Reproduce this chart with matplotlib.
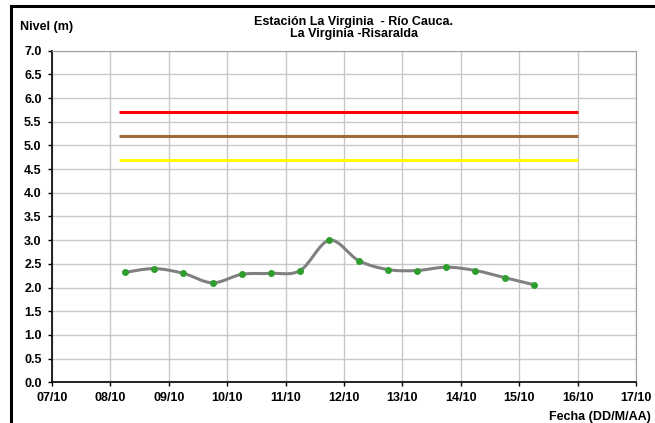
import numpy as np
import matplotlib.pyplot as plt
from matplotlib.path import Path
from matplotlib.patches import PathPatch, Rectangle

plt.rcParams['font.family'] = ['Liberation Sans', 'DejaVu Sans']

# ---------------------------------------------------------------
# Data (day of October, level in m)
# ---------------------------------------------------------------
days = [8.25, 8.75, 9.25, 9.75, 10.25, 10.75, 11.25, 11.75,
        12.25, 12.75, 13.25, 13.75, 14.25, 14.75, 15.25]
nivel = [2.32, 2.40, 2.30, 2.10, 2.28, 2.30, 2.36, 3.00,
         2.57, 2.38, 2.36, 2.43, 2.36, 2.21, 2.06]

# alert thresholds (m)
alert_levels = [5.7, 5.2, 4.7]
alert_colors = ['#ff0000', '#a0693c', '#ffff00']
alert_start = 8.15
alert_end = 16.0

tick_days = list(range(7, 18))
tick_labels = [f'{d:02d}/10' for d in tick_days]

title_lines = ['Estación La Virginia  - Río Cauca.', 'La Virginia -Risaralda']


def smooth_path(x, y):
    # Excel-style smoothed line: cubic Bezier through every point
    x = np.asarray(x, float); y = np.asarray(y, float)
    px = np.concatenate([[x[0]], x, [x[-1]]])
    py = np.concatenate([[y[0]], y, [y[-1]]])
    verts = [(x[0], y[0])]
    codes = [Path.MOVETO]
    for i in range(1, len(x)):
        c1 = (px[i] + (px[i + 1] - px[i - 1]) / 6, py[i] + (py[i + 1] - py[i - 1]) / 6)
        c2 = (px[i + 1] - (px[i + 2] - px[i]) / 6, py[i + 1] - (py[i + 2] - py[i]) / 6)
        verts += [c1, c2, (px[i + 1], py[i + 1])]
        codes += [Path.CURVE4] * 3
    return Path(verts, codes)


fig = plt.figure(figsize=(6.55, 4.23), dpi=100)
ax = fig.add_axes([52 / 655, 1 - 382.3 / 423, (636 - 52) / 655, (382.3 - 50.7) / 423])

# outer chart frame (cropped on right and bottom)
fig.patches.append(Rectangle((11 / 655, -0.2), 1.2, 1.2 - 6 / 423, transform=fig.transFigure,
                             fill=False, edgecolor='black', linewidth=2.2, zorder=0))

for lvl, c in zip(alert_levels, alert_colors):
    ax.plot([alert_start, alert_end], [lvl, lvl], color=c, lw=2.2, solid_capstyle='butt', zorder=3)

ax.add_patch(PathPatch(smooth_path(days, nivel), facecolor='none', edgecolor='#808080', lw=2.2, zorder=4))
ax.plot(days, nivel, ls='none', marker='o', ms=4, color='#2e9e2e', zorder=5)

ax.set_xlim(7, 17)
ax.set_ylim(0, 7)
ax.set_xticks(tick_days)
ax.set_xticklabels(tick_labels)
ax.set_yticks(np.arange(0, 7.01, 0.5))
ax.set_yticklabels([f'{v:.1f}' for v in np.arange(0, 7.01, 0.5)])
ax.grid(True, color='#c8c8c8', lw=1)
ax.set_axisbelow(True)

for lab in ax.get_xticklabels() + ax.get_yticklabels():
    lab.set_fontweight('bold')
    lab.set_fontsize(9)
ax.tick_params(axis='both', direction='out', length=3, width=1, color='black', pad=4.5)
ax.tick_params(axis='x', pad=4)

ax.spines['left'].set_color('black')
ax.spines['bottom'].set_color('black')
ax.spines['left'].set_linewidth(1.2)
ax.spines['bottom'].set_linewidth(1.2)
ax.spines['top'].set_color('#a0a0a0')
ax.spines['right'].set_color('#a0a0a0')

for txt, base in zip(title_lines, [25.3, 37.3]):
    fig.text(354 / 655, 1 - base / 423, txt, ha='center', va='baseline',
             fontsize=9, fontweight='bold')
fig.text(20.5 / 655, 1 - 30 / 423, 'Nivel (m)', ha='left', va='baseline', fontsize=9, fontweight='bold')
fig.text(549 / 655, 1 - 420 / 423, 'Fecha (DD/M/AA)', ha='left', va='baseline', fontsize=9, fontweight='bold')

fig.savefig('out.png', dpi=100)
